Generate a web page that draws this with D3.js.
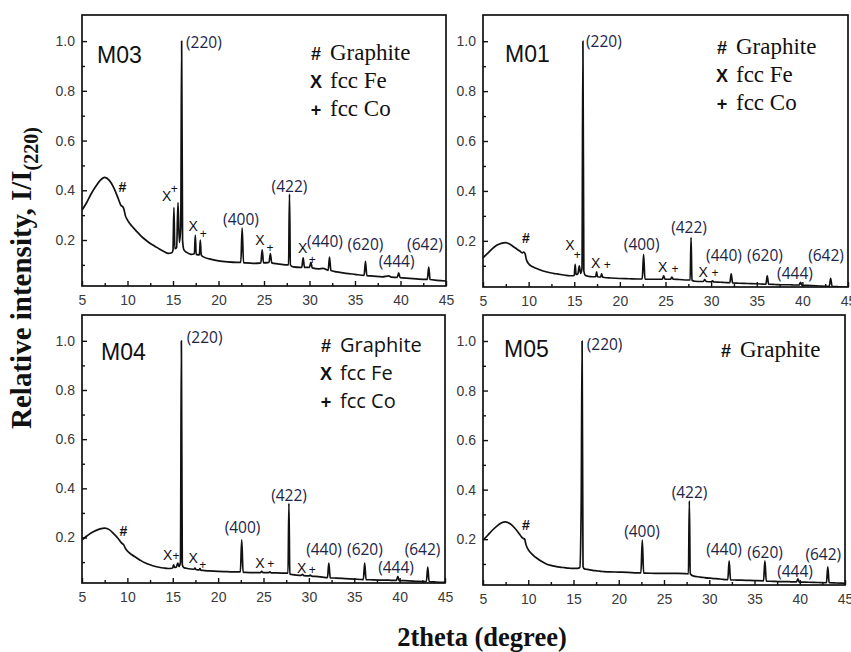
<!DOCTYPE html>
<html>
<head>
<meta charset="utf-8">
<script src="https://cdn.jsdelivr.net/npm/d3@7/dist/d3.min.js"></script>
<style>
  html, body { margin: 0; padding: 0; background: #fff; }
  svg { display: block; }
</style>
</head>
<body>
<svg id="chart" width="851" height="652"></svg>
<script>
// 2theta grid (degrees) shared by all four diffraction patterns
const twoTheta = [
  5, 5.5, 6, 6.5, 7, 7.5, 8, 8.5, 9, 9.3,
  9.45, 9.6, 9.75, 10, 10.5, 11, 11.5, 12, 12.5, 13,
  13.5, 14, 14.5, 14.9, 15.0, 15.1, 15.2, 15.4, 15.55, 15.7,
  15.85, 15.95, 16.05, 16.2, 16.5, 17, 17.35, 17.45, 17.55, 17.9,
  18.0, 18.1, 18.3, 19, 20, 21, 22, 22.45, 22.6, 22.75,
  23, 24, 24.65, 24.8, 24.95, 25.55, 25.7, 25.85, 26.5, 27.4,
  27.7, 27.8, 27.9, 28.2, 29, 29.15, 29.3, 29.45, 30.0, 30.15,
  30.3, 31, 31.5, 32.05, 32.2, 32.35, 33, 34, 35, 36.0,
  36.15, 36.3, 37, 38, 38.7, 39, 39.65, 39.8, 39.95, 41,
  42, 42.95, 43.1, 43.25, 44, 45
];

// Relative intensity I/I(220) for each sample
const m03 = [
  0.32, 0.35, 0.385, 0.415, 0.44, 0.452, 0.44, 0.41, 0.365, 0.338,
  0.335, 0.325, 0.30, 0.28, 0.255, 0.235, 0.216, 0.2, 0.186, 0.175,
  0.164, 0.154, 0.146, 0.15, 0.16, 0.33, 0.165, 0.17, 0.35, 0.19,
  0.25, 1.0, 0.2, 0.16, 0.15, 0.142, 0.145, 0.22, 0.142, 0.14,
  0.2, 0.14, 0.133, 0.124, 0.116, 0.112, 0.11, 0.11, 0.248, 0.108,
  0.108, 0.106, 0.108, 0.16, 0.108, 0.11, 0.145, 0.108, 0.104, 0.10,
  0.10, 0.385, 0.1, 0.092, 0.09, 0.09, 0.128, 0.09, 0.09, 0.11,
  0.088, 0.084, 0.086, 0.078, 0.131, 0.077, 0.072, 0.066, 0.062, 0.058,
  0.114, 0.057, 0.055, 0.052, 0.056, 0.051, 0.05, 0.068, 0.049, 0.046,
  0.043, 0.042, 0.091, 0.041, 0.038, 0.035
];
const m01 = [
  0.132, 0.15, 0.168, 0.182, 0.19, 0.193, 0.185, 0.172, 0.16, 0.152,
  0.155, 0.15, 0.125, 0.108, 0.095, 0.087, 0.08, 0.075, 0.071, 0.068,
  0.065, 0.062, 0.06, 0.06, 0.062, 0.106, 0.065, 0.068, 0.10, 0.07,
  0.09, 1.0, 0.08, 0.062, 0.058, 0.056, 0.056, 0.076, 0.056, 0.055,
  0.068, 0.055, 0.053, 0.051, 0.049, 0.048, 0.047, 0.047, 0.146, 0.046,
  0.046, 0.046, 0.046, 0.06, 0.046, 0.046, 0.055, 0.046, 0.045, 0.043,
  0.043, 0.213, 0.042, 0.038, 0.037, 0.037, 0.045, 0.037, 0.036, 0.04,
  0.035, 0.034, 0.033, 0.032, 0.068, 0.031, 0.03, 0.029, 0.028, 0.026,
  0.06, 0.026, 0.025, 0.024, 0.024, 0.023, 0.023, 0.034, 0.022, 0.021,
  0.019, 0.018, 0.05, 0.018, 0.016, 0.015
];
const m04 = [
  0.19, 0.205, 0.218, 0.228, 0.235, 0.238, 0.232, 0.215, 0.195, 0.18,
  0.175, 0.17, 0.158, 0.145, 0.13, 0.118, 0.106, 0.096, 0.089, 0.083,
  0.079, 0.076, 0.074, 0.075, 0.077, 0.089, 0.078, 0.08, 0.096, 0.082,
  0.1, 1.0, 0.09, 0.078, 0.075, 0.072, 0.071, 0.076, 0.07, 0.068,
  0.074, 0.067, 0.066, 0.064, 0.062, 0.061, 0.06, 0.06, 0.19, 0.059,
  0.058, 0.057, 0.057, 0.062, 0.057, 0.057, 0.06, 0.056, 0.056, 0.055,
  0.055, 0.339, 0.052, 0.049, 0.046, 0.046, 0.05, 0.045, 0.044, 0.047,
  0.043, 0.041, 0.039, 0.037, 0.096, 0.036, 0.035, 0.033, 0.031, 0.029,
  0.096, 0.029, 0.028, 0.027, 0.027, 0.026, 0.026, 0.042, 0.025, 0.024,
  0.022, 0.021, 0.08, 0.021, 0.019, 0.018
];
const m05 = [
  0.196, 0.215, 0.235, 0.252, 0.265, 0.27, 0.262, 0.245, 0.222, 0.207,
  0.203, 0.2, 0.178, 0.158, 0.137, 0.122, 0.11, 0.1, 0.094, 0.09,
  0.087, 0.085, 0.083, 0.082, 0.082, 0.082, 0.082, 0.082, 0.083, 0.086,
  0.33, 1.0, 0.09, 0.08, 0.078, 0.075, 0.073, 0.073, 0.072, 0.071,
  0.07, 0.07, 0.069, 0.068, 0.067, 0.066, 0.064, 0.064, 0.196, 0.063,
  0.063, 0.062, 0.062, 0.062, 0.062, 0.062, 0.062, 0.062, 0.062, 0.061,
  0.06, 0.355, 0.06, 0.052, 0.047, 0.046, 0.046, 0.045, 0.043, 0.043,
  0.042, 0.04, 0.038, 0.037, 0.112, 0.036, 0.035, 0.034, 0.033, 0.032,
  0.112, 0.031, 0.03, 0.029, 0.029, 0.028, 0.028, 0.04, 0.027, 0.026,
  0.025, 0.024, 0.088, 0.024, 0.023, 0.022
];

// Axis ticks
const xTicks = [5, 10, 15, 20, 25, 30, 35, 40, 45];
const xMinorTicks = [7.5, 12.5, 17.5, 22.5, 27.5, 32.5, 37.5, 42.5];
const yTicks = [0.2, 0.4, 0.6, 0.8, 1.0];
const yMinorTicks = [0.1, 0.3, 0.5, 0.7, 0.9];

// Reflection labels (2theta, intensity at text baseline)
const m03Hkl = [
  ["(220)", 16.43, 0.972], ["(400)", 22.47, 0.260], ["(422)", 27.8, 0.394],
  ["(440)", 31.7, 0.173], ["(620)", 36.15, 0.160], ["(444)", 39.58, 0.093],
  ["(642)", 42.69, 0.160]
];
const m01Hkl = [
  ["(220)", 16.29, 0.978], ["(400)", 22.39, 0.163], ["(422)", 27.58, 0.233],
  ["(440)", 31.41, 0.120], ["(620)", 35.9, 0.120], ["(444)", 39.19, 0.046],
  ["(642)", 42.59, 0.120]
];
const m04Hkl = [
  ["(220)", 16.54, 0.990], ["(400)", 22.69, 0.217], ["(422)", 27.81, 0.350],
  ["(440)", 31.67, 0.129], ["(620)", 36.18, 0.129], ["(444)", 39.6, 0.054],
  ["(642)", 42.52, 0.129]
];
const m05Hkl = [
  ["(220)", 16.46, 0.964], ["(400)", 22.57, 0.210], ["(422)", 27.82, 0.365],
  ["(440)", 31.63, 0.136], ["(620)", 36.16, 0.123], ["(444)", 39.48, 0.049],
  ["(642)", 42.6, 0.116]
];

// Phase markers: symbol, 2theta, intensity at text baseline
const m03Phase = [
  ["#", 9.45, 0.394],
  ["X", 14.3, 0.356], ["+", 15.15, 0.39],
  ["X", 17.23, 0.237], ["+", 18.33, 0.208],
  ["X", 24.56, 0.180], ["+", 25.66, 0.153],
  ["X", 29.25, 0.147], ["+", 30.31, 0.103]
];
const m01Phase = [
  ["#", 9.71, 0.193],
  ["X", 14.53, 0.163], ["+", 15.33, 0.127],
  ["X", 17.35, 0.090], ["+", 18.62, 0.086],
  ["X", 24.69, 0.076], ["+", 26.04, 0.070],
  ["X", 29.14, 0.056], ["+", 30.42, 0.056]
];
const m04Phase = [
  ["#", 9.55, 0.206],
  ["X", 14.45, 0.109], ["+", 15.35, 0.109],
  ["X", 17.26, 0.095], ["+", 18.3, 0.072],
  ["X", 24.61, 0.075], ["+", 25.79, 0.075],
  ["X", 29.21, 0.054], ["+", 30.38, 0.052]
];
const m05Phase = [
  ["#", 9.75, 0.237]
];

// Phase legend entries
const legendFull = [["#", "Graphite"], ["X", "fcc Fe"], ["+", "fcc Co"]];
const legendGraphite = [["#", "Graphite"]];

const serif = "'Liberation Serif', 'Times New Roman', serif";
const sans = "'Liberation Sans', Arial, sans-serif";
const hklFont = "'Open Sans', 'Noto Sans', sans-serif";

const panels = [
  { name: "M03", values: m03, hkl: m03Hkl, phase: m03Phase, legend: legendFull,
    box: { l: 82, r: 446, t: 15, b: 286 }, nameAt: [97, 63],
    legendAt: [310, 60], legendFont: serif },
  { name: "M01", values: m01, hkl: m01Hkl, phase: m01Phase, legend: legendFull,
    box: { l: 483, r: 848, t: 15, b: 287 }, nameAt: [505, 62],
    legendAt: [716, 54], legendFont: serif },
  { name: "M04", values: m04, hkl: m04Hkl, phase: m04Phase, legend: legendFull,
    box: { l: 82, r: 445, t: 315, b: 583 }, nameAt: [101, 360],
    legendAt: [320, 352], legendFont: "'Open Sans', 'Noto Sans', sans-serif" },
  { name: "M05", values: m05, hkl: m05Hkl, phase: m05Phase, legend: legendGraphite,
    box: { l: 483, r: 845, t: 315, b: 585 }, nameAt: [504, 357],
    legendAt: [720, 357], legendFont: serif }
];

const svg = d3.select("#chart");
const yDomain = [0.015, 1.105];

panels.forEach((p, i) => {
  const b = p.box;
  const x = d3.scaleLinear().domain([5, 45]).range([b.l, b.r]);
  const y = d3.scaleLinear().domain(yDomain).range([b.b, b.t]);
  const g = svg.append("g").attr("class", "panel-" + p.name);

  const clipId = "clip-" + i;
  g.append("clipPath").attr("id", clipId)
    .append("rect").attr("x", b.l).attr("y", b.t)
    .attr("width", b.r - b.l).attr("height", b.b - b.t);

  // diffraction pattern
  const pts = twoTheta.map((t, k) => [t, p.values[k]]);
  const line = d3.line().x(d => x(d[0])).y(d => y(d[1])).curve(d3.curveMonotoneX);
  g.append("path").datum(pts)
    .attr("clip-path", "url(#" + clipId + ")")
    .attr("d", line)
    .attr("fill", "none").attr("stroke", "#111")
    .attr("stroke-width", 1.7).attr("stroke-linejoin", "round");

  // bottom axis with inward ticks
  g.append("g").attr("transform", `translate(0,${b.b})`)
    .call(d3.axisBottom(x).tickValues(xTicks).tickSize(-5).tickPadding(9).tickFormat(d3.format("d")));
  g.append("g").attr("transform", `translate(0,${b.b})`)
    .call(d3.axisBottom(x).tickValues(xMinorTicks).tickSize(-3).tickFormat(""));
  // left axis with inward ticks
  g.append("g").attr("transform", `translate(${b.l},0)`)
    .call(d3.axisLeft(y).tickValues(yTicks).tickSize(-5).tickPadding(7).tickFormat(d3.format(".1f")));
  g.append("g").attr("transform", `translate(${b.l},0)`)
    .call(d3.axisLeft(y).tickValues(yMinorTicks).tickSize(-3).tickFormat(""));

  g.selectAll(".domain").remove();
  g.selectAll(".tick line").attr("stroke", "#111").attr("stroke-width", 1.4);
  g.selectAll(".tick text")
    .attr("font-family", sans).attr("font-size", 14).attr("fill", "#3a3a3a");

  // frame
  g.append("rect").attr("x", b.l).attr("y", b.t)
    .attr("width", b.r - b.l).attr("height", b.b - b.t)
    .attr("fill", "none").attr("stroke", "#111").attr("stroke-width", 1.7);

  // sample name
  g.append("text").attr("x", p.nameAt[0]).attr("y", p.nameAt[1])
    .attr("font-family", sans).attr("font-size", 23).attr("fill", "#111")
    .text(p.name);

  // reflection labels
  g.selectAll("text.hkl").data(p.hkl).join("text").attr("class", "hkl")
    .attr("x", d => x(d[1])).attr("y", d => y(d[2]))
    .attr("text-anchor", d => d[0] === "(220)" ? "start" : "middle")
    .attr("font-family", hklFont).attr("font-size", 15.5).attr("fill", "#1c2547")
    .text(d => d[0]);

  // phase markers on the pattern
  g.selectAll("text.phase").data(p.phase).join("text").attr("class", "phase")
    .attr("x", d => x(d[1])).attr("y", d => y(d[2]))
    .attr("text-anchor", "middle")
    .attr("font-family", sans)
    .attr("font-weight", d => d[0] === "#" ? "bold" : "normal")
    .attr("font-size", d => d[0] === "+" ? 12 : 14)
    .attr("fill", "#111")
    .text(d => d[0]);

  // legend
  const lg = g.append("g").attr("transform", `translate(${p.legendAt[0]},${p.legendAt[1]})`);
  p.legend.forEach((e, k) => {
    lg.append("text").attr("x", 6).attr("y", k * 28)
      .attr("text-anchor", "middle")
      .attr("font-family", sans).attr("font-weight", "bold").attr("font-size", 18)
      .attr("fill", "#111").text(e[0]);
    lg.append("text").attr("x", 20).attr("y", k * 28)
      .attr("font-family", p.legendFont)
      .attr("font-size", p.legendFont === serif ? 23 : 20)
      .attr("fill", "#111").text(e[1]);
  });
});

// shared axis titles
svg.append("text")
  .attr("transform", "translate(31,278) rotate(-90)")
  .attr("text-anchor", "middle")
  .attr("font-family", serif).attr("font-weight", "bold").attr("font-size", 29)
  .attr("fill", "#111")
  .call(t => {
    t.append("tspan").text("Relative intensity, I/I");
    t.append("tspan").attr("dy", 7).attr("font-size", 20).text("(220)");
  });

svg.append("text")
  .attr("x", 482).attr("y", 646)
  .attr("text-anchor", "middle")
  .attr("font-family", serif).attr("font-weight", "bold").attr("font-size", 26.5)
  .attr("fill", "#111")
  .text("2theta (degree)");
</script>
</body>
</html>
